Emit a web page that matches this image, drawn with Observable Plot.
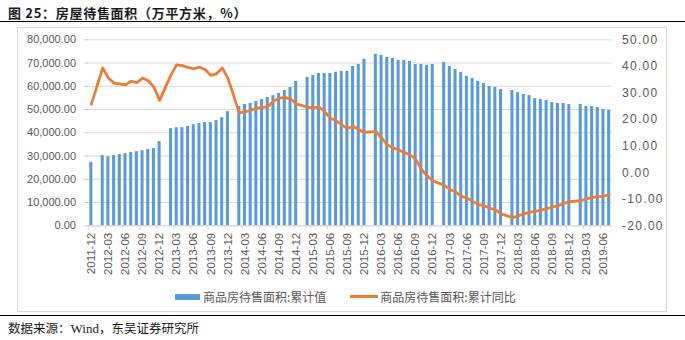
<!DOCTYPE html>
<html><head><meta charset="utf-8">
<script src="https://cdn.jsdelivr.net/npm/d3@7"></script>
<script src="https://cdn.jsdelivr.net/npm/@observablehq/plot@0.6"></script>
<style>
body{margin:0;width:685px;height:340px;position:relative;background:#fff;overflow:hidden;font-family:"Liberation Sans",Arial,sans-serif}
#title{position:absolute;left:8px;top:3px;font:bold 13px "Noto Sans CJK SC";letter-spacing:0.7px;color:#1a1a1a;white-space:nowrap}
#rule1{position:absolute;left:0;top:21px;width:685px;border-top:1.6px solid #000}
#box{position:absolute;left:17px;top:27px;width:650px;height:285px;border:1px solid #d9d9d9;box-sizing:border-box}
#chart{position:absolute;left:0;top:24px}
#legend{position:absolute;left:175px;top:288px;display:flex;align-items:center;font:12px "Noto Sans CJK SC";color:#595959;white-space:nowrap}
#legend .bar{display:inline-block;width:25px;height:6px;background:#5B9BD5;margin-right:3px}
#legend .line{display:inline-block;width:28px;height:3px;background:#ED7D31;margin-left:24px;margin-right:2px}
#rule2{position:absolute;left:0;top:315px;width:685px;border-top:1.6px solid #000}
#caption{position:absolute;left:8px;top:318px;font:12.5px "Noto Sans CJK SC";color:#1a1a1a;white-space:nowrap}
#caption .latin{font-family:"Liberation Serif",serif;font-size:13px}
</style></head>
<body>
<div id="title">图 25：房屋待售面积（万平方米，%）</div>
<div id="rule1"></div>
<div id="box"></div>
<div id="chart"></div>
<div id="legend"><span class="bar"></span><span>商品房待售面积:累计值</span><span class="line"></span><span>商品房待售面积:累计同比</span></div>
<div id="rule2"></div>
<div id="caption">数据来源：<span class="latin">Wind</span>，东吴证券研究所</div>
<script>
// categories: months 2011-12 .. 2019-07
const startYear = 2011, startMonth = 12, monthCount = 92;
const months = [];
for (let k = 0; k < monthCount; k++) {
  const t = (startMonth - 1) + k;
  const y = startYear + Math.floor(t / 12), m = (t % 12) + 1;
  months.push(y + "-" + String(m).padStart(2, "0"));
}
// 商品房待售面积:累计值 (万平方米), January not published
const area = [
  27200,
  null,30200,29700,30200,30600,31000,31500,31900,32300,32800,33200,36200,
  null,41800,42200,42200,42700,43500,44000,44400,44400,45300,46500,49100,
  null,51300,52200,52600,53400,54300,55200,56000,56900,58200,59500,62100,
  null,63800,64700,65500,65500,65500,66000,66400,66400,68500,69400,71600,
  null,73700,73300,72400,72000,71100,71100,70700,69400,69400,69000,69400,
  null,70300,68500,67200,66000,64200,63400,62100,61200,59900,59500,58600,
  null,58200,57300,56500,56000,54700,54300,53900,53000,52600,52600,52200,
  null,52200,51300,51300,50900,50000,49600
];
// 商品房待售面积:累计同比 (%)
const yoy = [
  25.8,
  null,39.4,35.6,33.7,33.4,33.0,34.4,33.9,35.6,34.6,32.2,27.2,
  null,36.8,40.6,40.3,39.6,39.1,39.7,38.8,36.6,37.2,39.4,35.6,
  null,22.5,22.9,23.4,24.3,24.5,24.8,26.9,28.0,28.3,27.8,25.9,
  null,24.7,24.4,24.8,23.0,20.5,19.6,18.0,16.6,17.5,16.1,15.2,
  null,15.5,13.1,10.5,9.4,8.5,7.6,6.7,5.2,1.2,-1.1,-3.1,
  null,-4.7,-6.3,-7.2,-8.8,-9.6,-10.7,-12.0,-12.4,-13.4,-13.9,-15.5,
  null,-16.9,-16.3,-15.5,-14.9,-14.6,-14.1,-13.6,-12.9,-12.5,-11.6,-10.9,
  null,-10.5,-9.9,-9.4,-9.0,-9.0,-8.1
];
const leftTicks = [0,10000,20000,30000,40000,50000,60000,70000,80000];
const rightTicks = [-20,-10,0,10,20,30,40,50];
const xTickLabels = months.filter((m, i) => i % 3 === 0);

const areaMax = leftTicks[leftTicks.length - 1];
const yoyMin = rightTicks[0], yoyMax = rightTicks[rightTicks.length - 1];
const toLeft = v => (v - yoyMin) * areaMax / (yoyMax - yoyMin);
const fromLeft = d => Math.round((d * (yoyMax - yoyMin) / areaMax + yoyMin) * 100) / 100;

const data = months.map((m, i) => ({m, area: area[i], yoy: yoy[i]}));

const W = 685, H = 260, mL = 88, mR = 73.5;
const step = (W - mL - mR) / months.length;

const chart = Plot.plot({
  width: W, height: H,
  marginTop: 15.3, marginBottom: 58.7, marginLeft: mL, marginRight: mR,
  x: {type: "band", domain: months, paddingInner: 0.47, paddingOuter: 0.235, align: 0.5, label: null},
  y: {domain: [0, areaMax], label: null},
  style: {fontFamily: "'Liberation Sans', Arial, sans-serif", color: "#595959", background: "transparent"},
  marks: [
    Plot.gridY(leftTicks, {stroke: "#d9d9d9", strokeOpacity: 1}),
    Plot.barY(data.filter(d => d.area != null), {x: "m", y: "area", fill: "#5B9BD5"}),
    Plot.ruleY([0], {stroke: "#d9d9d9"}),
    Plot.lineY(data.filter(d => d.yoy != null), {x: "m", y: d => toLeft(d.yoy), stroke: "#ED7D31", strokeWidth: 2.75, strokeLinejoin: "round", strokeLinecap: "round"}),
    Plot.axisY(leftTicks, {anchor: "left", label: null, tickSize: 3.5, tickPadding: 9, stroke: "#bfbfbf", fill: "#595959", fontSize: 11, tickFormat: d => d3.format(",.2f")(d)}),
    Plot.axisY(rightTicks.map(toLeft), {anchor: "right", label: null, tickSize: 0, tickPadding: 10, textAnchor: "start", fill: "#595959", fontSize: 12, tickFormat: d => fromLeft(d).toFixed(2)}),
    Plot.axisX(xTickLabels, {label: null, tickSize: 0, tickRotate: -90, tickPadding: 7, fill: "#595959", fontSize: 11.5}),
    Plot.axisX(xTickLabels, {label: null, tickSize: 4, stroke: "#d9d9d9", tickFormat: () => "", dx: -step / 2})
  ]
});
document.getElementById("chart").appendChild(chart);
const ylabels = chart.querySelectorAll('g[aria-label="y-axis tick label"]');
if (ylabels.length > 1) ylabels[1].style.letterSpacing = "1.3px";
</script>
</body></html>
